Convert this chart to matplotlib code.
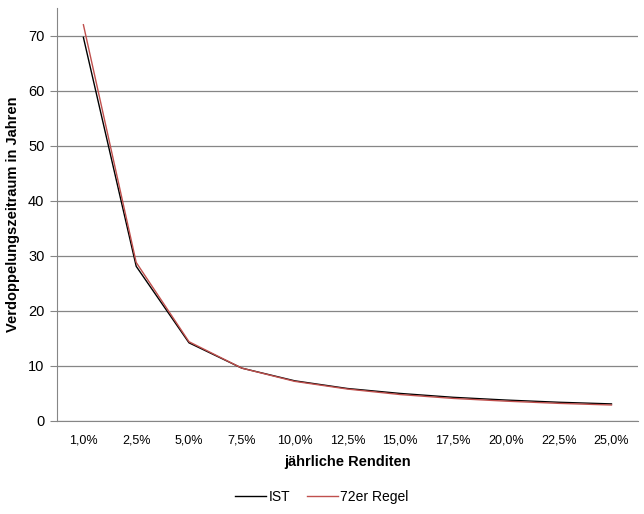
import matplotlib
matplotlib.use('Agg')
import matplotlib.pyplot as plt

# ---------- data ----------
renditen = ['1,0%', '2,5%', '5,0%', '7,5%', '10,0%', '12,5%', '15,0%',
            '17,5%', '20,0%', '22,5%', '25,0%']
ist = [69.7, 28.1, 14.2, 9.6, 7.3, 5.9, 5.0, 4.3, 3.8, 3.4, 3.1]
regel72 = [72.0, 28.8, 14.4, 9.6, 7.2, 5.8, 4.8, 4.1, 3.6, 3.2, 2.9]
y_ticks = [0, 10, 20, 30, 40, 50, 60, 70]

plt.rcParams['font.family'] = ['Liberation Sans', 'DejaVu Sans']

fig = plt.figure(figsize=(6.44, 5.14), dpi=100)
ax = fig.add_axes([0.0885, 0.181, 0.902, 0.803])

x = range(len(renditen))
ax.plot(x, ist, color='black', lw=1.0, label='IST', zorder=3)
ax.plot(x, regel72, color='#c0504d', lw=1.0, label='72er Regel', zorder=4)

ax.set_xlim(-0.5, len(renditen) - 0.5)
ax.set_ylim(0, 75)
ax.set_yticks(y_ticks)
ax.set_xticks(list(x))
ax.set_xticklabels(renditen, fontsize=9)
ax.tick_params(axis='y', labelsize=10.5, length=5, color='#868686', pad=4)
ax.tick_params(axis='x', length=0, pad=10)
ax.grid(axis='y', color='#868686', lw=0.9)
ax.set_axisbelow(True)

for s in ['top', 'right']:
    ax.spines[s].set_visible(False)
ax.spines['left'].set_color('#868686')
ax.spines['bottom'].set_color('#868686')

ax.set_xlabel('jährliche Renditen', fontsize=10.5, fontweight='bold', labelpad=6)
ax.set_ylabel('Verdoppelungszeitraum in Jahren', fontsize=10.5, fontweight='bold', labelpad=6)

fig.legend(loc='center', bbox_to_anchor=(0.5, 0.033), ncol=2, frameon=False,
           fontsize=10, handlelength=2.2, handletextpad=0.2, columnspacing=1.2)

fig.savefig('out.png', dpi=100)
